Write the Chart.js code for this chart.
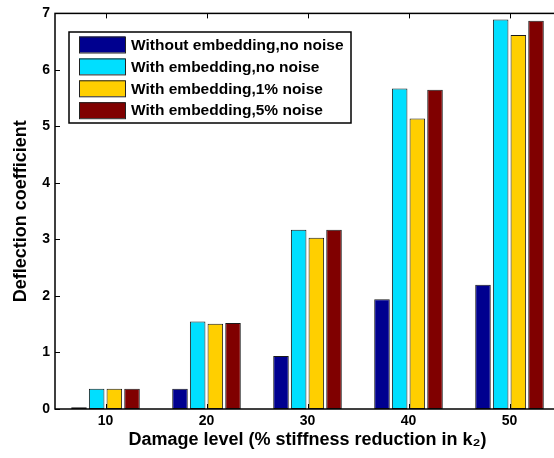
<!DOCTYPE html>
<html>
<head>
<meta charset="utf-8">
<script src="https://cdn.jsdelivr.net/npm/chart.js@4"></script>
<style>
  html, body { margin: 0; padding: 0; background: #fff; overflow: hidden; }
</style>
</head>
<body>
<canvas id="deflectionChart" width="570" height="458"></canvas>
<script>
// damage levels (% stiffness reduction in k2)
const damageLevels = ['10', '20', '30', '40', '50'];
const seriesNames = [
  'Without embedding,no noise',
  'With embedding,no noise',
  'With embedding,1% noise',
  'With embedding,5% noise'
];
const withoutEmbedding = [0.03, 0.36, 0.94, 1.94, 2.20];
const embeddingNoNoise = [0.36, 1.55, 3.17, 5.67, 6.89];
const embedding1Noise = [0.36, 1.51, 3.03, 5.14, 6.62];
const embedding5Noise = [0.36, 1.52, 3.17, 5.65, 6.87];
const yTicks = [0, 1, 2, 3, 4, 5, 6, 7];

const colors = ['rgb(0,0,143)', 'rgb(0,223,255)', 'rgb(255,207,0)', 'rgb(128,0,0)'];
const fontFamily = "'Liberation Sans', Arial, 'DejaVu Sans', sans-serif";

// matlab style box with inward ticks
const frameTicks = {
  id: 'frameTicks',
  afterDatasetsDraw(chart) {
    const ctx = chart.ctx;
    const a = chart.chartArea;
    const x = chart.scales.x, y = chart.scales.y;
    ctx.save();
    ctx.strokeStyle = '#000';
    ctx.lineWidth = 1;
    ctx.beginPath();
    yTicks.forEach(function (v) {
      const py = Math.round(y.getPixelForValue(v)) + 0.5;
      ctx.moveTo(a.left, py);
      ctx.lineTo(a.left + 5, py);
    });
    damageLevels.forEach(function (c, i) {
      const px = Math.round(x.getPixelForValue(i)) + 0.5;
      ctx.moveTo(px, a.bottom);
      ctx.lineTo(px, a.bottom - 5);
      ctx.moveTo(px, a.top);
      ctx.lineTo(px, a.top + 5);
    });
    ctx.stroke();
    ctx.lineWidth = 1.5;
    ctx.strokeRect(a.left, a.top, a.right - a.left, a.bottom - a.top);
    ctx.restore();
  }
};

// legend box inside the axes, upper left
const insideLegend = {
  id: 'insideLegend',
  afterDraw(chart) {
    const ctx = chart.ctx;
    const bx = 69, by = 32, bw = 282, bh = 91;
    ctx.save();
    ctx.fillStyle = '#fff';
    ctx.fillRect(bx, by, bw, bh);
    ctx.strokeStyle = '#000';
    ctx.lineWidth = 1.5;
    ctx.strokeRect(bx, by, bw, bh);
    ctx.font = 'bold 15.5px ' + fontFamily;
    ctx.textBaseline = 'middle';
    chart.data.datasets.forEach(function (ds, i) {
      const cy = 44.5 + i * 21.9;
      ctx.fillStyle = ds.backgroundColor;
      ctx.fillRect(79, cy - 8, 46, 16);
      ctx.lineWidth = 1;
      ctx.strokeStyle = '#222';
      ctx.strokeRect(79.5, cy - 7.5, 46, 16);
      ctx.fillStyle = '#000';
      ctx.fillText(ds.label, 131, cy + 1);
    });
    ctx.restore();
  }
};

const ctx = document.getElementById('deflectionChart').getContext('2d');
const seriesValues = [withoutEmbedding, embeddingNoNoise, embedding1Noise, embedding5Noise];

const data = {
  labels: damageLevels,
  datasets: seriesValues.map(function (vals, i) {
    return {
      label: seriesNames[i],
      data: vals,
      backgroundColor: colors[i],
      borderColor: '#1a1a1a',
      borderWidth: 1,
      borderSkipped: false,
      categoryPercentage: 0.7,
      barPercentage: 0.88
    };
  })
};

const config = {
  type: 'bar',
  data: data,
  options: {
    responsive: false,
    animation: false,
    layout: { padding: { top: 13, right: 10, left: 0, bottom: 0 } },
    plugins: {
      legend: { display: false },
      tooltip: { enabled: false }
    },
    scales: {
      x: {
        grid: { display: false, drawTicks: false },
        border: { display: false },
        ticks: {
          color: '#000',
          padding: 4,
          font: { family: fontFamily, size: 14, weight: 'bold' }
        },
        title: {
          display: true,
          text: 'Damage level (% stiffness reduction in k\u2082)',
          color: '#000',
          padding: { top: 0, bottom: 7 },
          font: { family: fontFamily, size: 18, weight: 'bold' }
        },
        afterFit: function (scale) { scale.height = 49; }
      },
      y: {
        min: 0,
        max: 7,
        grid: { display: false, drawTicks: false },
        border: { display: false },
        ticks: {
          stepSize: 1,
          color: '#000',
          padding: 5,
          font: { family: fontFamily, size: 14, weight: 'bold' }
        },
        title: {
          display: true,
          text: 'Deflection coefficient',
          color: '#000',
          padding: { top: 10, bottom: 0 },
          font: { family: fontFamily, size: 18, weight: 'bold' }
        },
        afterFit: function (scale) { scale.width = 55; }
      }
    }
  },
  plugins: [frameTicks, insideLegend]
};

const deflectionChart = new Chart(ctx, config);
</script>
</body>
</html>
